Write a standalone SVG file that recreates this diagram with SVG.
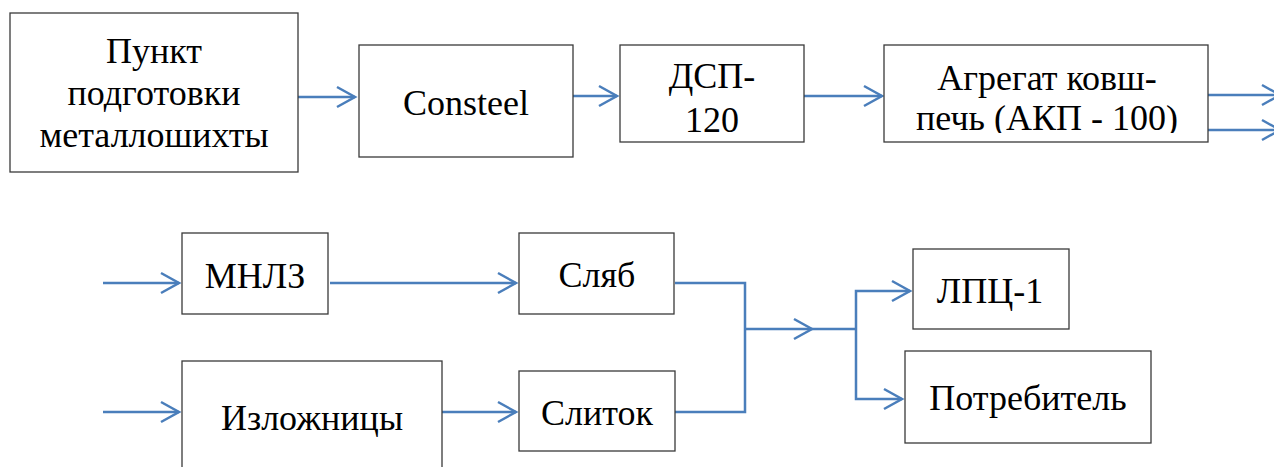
<svg xmlns="http://www.w3.org/2000/svg" width="1274" height="467" viewBox="0 0 1274 467">
  <style>
    .box { fill: #ffffff; stroke: #3a3a3a; stroke-width: 1.3; }
    .wire { fill: none; stroke: #4a7ebb; stroke-width: 2.5; }
    text { font-family: 'Liberation Serif', 'Tinos', 'Times New Roman', 'DejaVu Serif', serif; font-size: 36px; fill: #000000; text-anchor: middle; }
  </style>
  <defs>
    <marker id="chev" viewBox="0 0 22 24" markerWidth="22" markerHeight="24" refX="19" refY="12" orient="auto" markerUnits="userSpaceOnUse">
      <path d="M1,2 L19,12 L1,22" fill="none" stroke="#4a7ebb" stroke-width="2.5"/>
    </marker>
    <clipPath id="clipAgg">
      <rect x="884" y="45" width="324" height="88"/>
    </clipPath>
  </defs>

  <rect width="1274" height="467" fill="#ffffff"/>

  <!-- connectors -->
  <g id="connectors">
    <path class="wire" d="M298,97 H355" marker-end="url(#chev)"/>
    <path class="wire" d="M573,96 H617" marker-end="url(#chev)"/>
    <path class="wire" d="M804,96 H882" marker-end="url(#chev)"/>
    <path class="wire" d="M1208,95 H1280" marker-end="url(#chev)"/>
    <path class="wire" d="M1208,130 H1280" marker-end="url(#chev)"/>

    <path class="wire" d="M103,283 H179" marker-end="url(#chev)"/>
    <path class="wire" d="M330,283 H516" marker-end="url(#chev)"/>
    <path class="wire" d="M103,412 H179" marker-end="url(#chev)"/>
    <path class="wire" d="M442,412 H516" marker-end="url(#chev)"/>

    <path class="wire" d="M675,283 H745 V412 H675"/>
    <path class="wire" d="M745,329 H812" marker-end="url(#chev)"/>
    <path class="wire" d="M812,329 H856"/>
    <path class="wire" d="M856,329 V291 H910" marker-end="url(#chev)"/>
    <path class="wire" d="M856,329 V399 H902" marker-end="url(#chev)"/>
  </g>

  <!-- top row -->
  <g id="node-punkt">
    <rect class="box" x="10" y="13" width="288" height="159"/>
    <text x="154" y="63">Пункт</text>
    <text x="154" y="105">подготовки</text>
    <text x="154" y="147">металлошихты</text>
  </g>
  <g id="node-consteel">
    <rect class="box" x="359" y="45" width="214" height="112"/>
    <text x="466" y="115">Consteel</text>
  </g>
  <g id="node-dsp">
    <rect class="box" x="620" y="45" width="184" height="97"/>
    <text x="712" y="88">ДСП-</text>
    <text x="712" y="132">120</text>
  </g>
  <g id="node-akp">
    <rect class="box" x="884" y="45" width="324" height="97"/>
    <g clip-path="url(#clipAgg)">
      <text x="1047" y="90">Агрегат ковш-</text>
      <text x="1047" y="130">печь (АКП - 100)</text>
    </g>
  </g>

  <!-- bottom row -->
  <g id="node-mnlz">
    <rect class="box" x="182" y="233" width="146" height="81"/>
    <text x="255" y="288">МНЛЗ</text>
  </g>
  <g id="node-slab">
    <rect class="box" x="519" y="233" width="155" height="81"/>
    <text x="597" y="287">Сляб</text>
  </g>
  <g id="node-izlozh">
    <rect class="box" x="182" y="361" width="260" height="120"/>
    <text x="312" y="430">Изложницы</text>
  </g>
  <g id="node-slitok">
    <rect class="box" x="519" y="371" width="156" height="80"/>
    <text x="597" y="425">Слиток</text>
  </g>
  <g id="node-lpc">
    <rect class="box" x="913" y="249" width="156" height="80"/>
    <text x="990" y="303">ЛПЦ-1</text>
  </g>
  <g id="node-consumer">
    <rect class="box" x="905" y="351" width="246" height="92"/>
    <text x="1028" y="410">Потребитель</text>
  </g>
</svg>
